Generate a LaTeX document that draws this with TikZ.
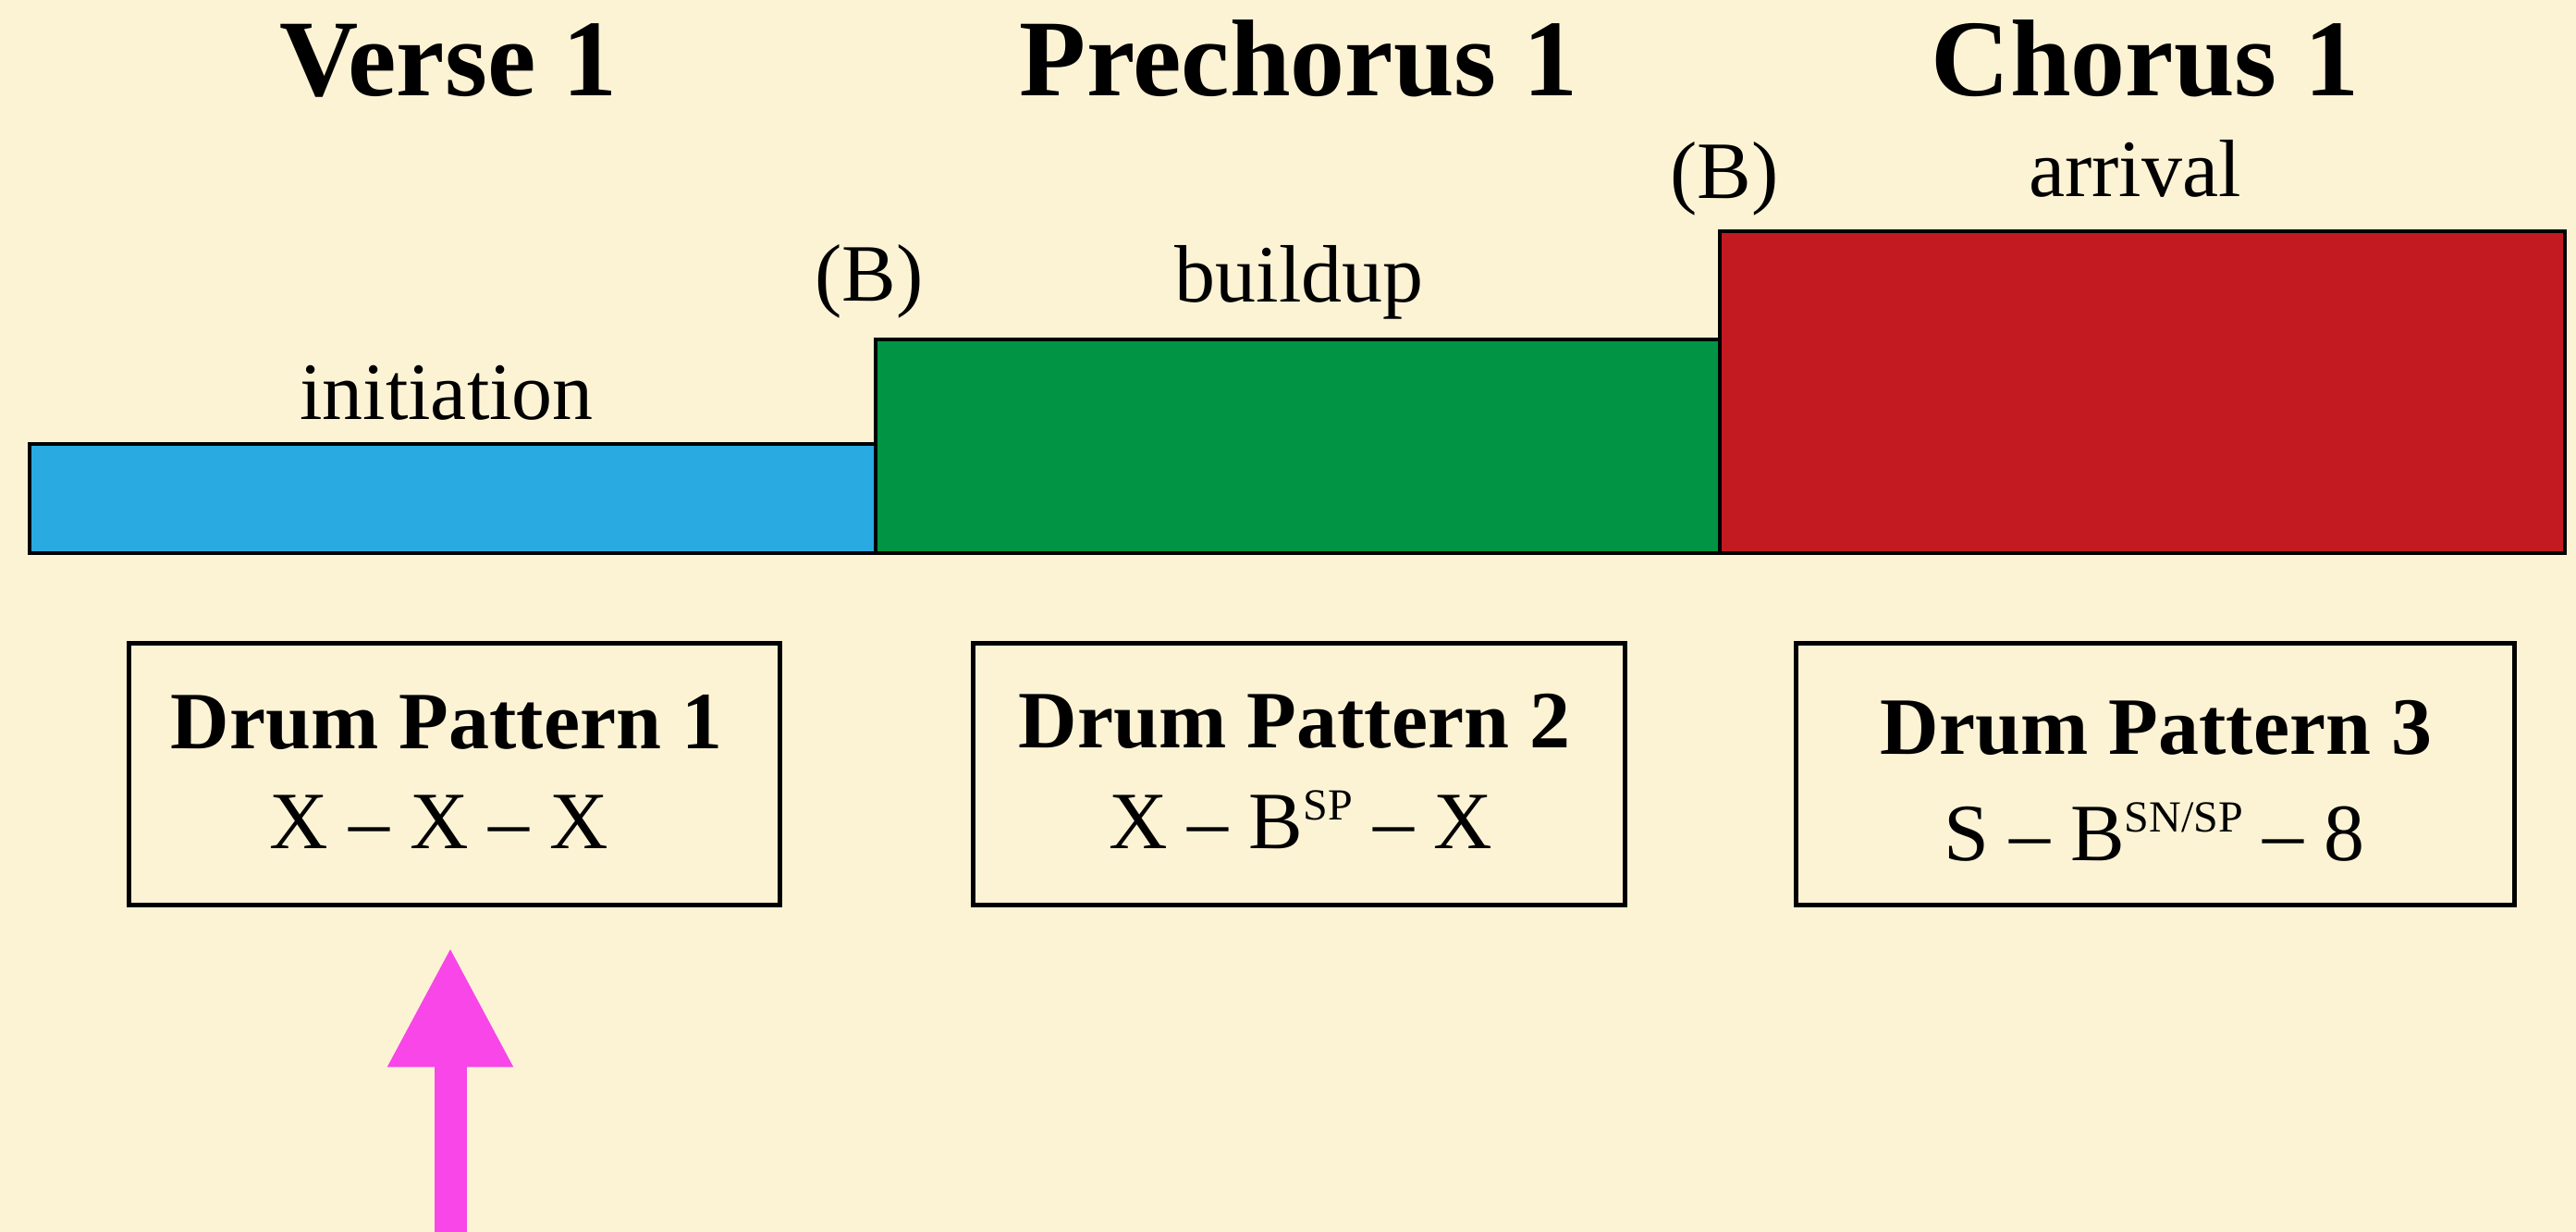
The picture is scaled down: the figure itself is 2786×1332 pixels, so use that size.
\documentclass[tikz,border=0pt]{standalone}
\usepackage{fontspec}
\setmainfont{Liberation Serif}
\usetikzlibrary{arrows.meta}
\definecolor{bgcream}{HTML}{FCF3D5}
\definecolor{barblue}{HTML}{29ABE2}
\definecolor{bargreen}{HTML}{009444}
\definecolor{barred}{HTML}{C31A22}
\definecolor{arrowpink}{HTML}{F846E8}
\newcommand{\supr}[1]{\raisebox{15.5pt}{\fontsize{24}{24}\selectfont #1}}
\begin{document}
\begin{tikzpicture}[x=0.5pt,y=-0.5pt,
  sectitle/.style={font=\fontsize{59}{62}\selectfont\bfseries, inner sep=0pt, anchor=base},
  lbl/.style={font=\fontsize{44}{48}\selectfont, inner sep=0pt, anchor=base},
  bar/.style={draw=black, line width=2pt},
  pbox/.style={draw=black, line width=2.5pt, rectangle, minimum height=141.5pt, inner sep=0pt},
  phead/.style={font=\fontsize{44}{48}\selectfont\bfseries, inner sep=0pt, anchor=base},
  pline/.style={font=\fontsize{44}{48}\selectfont, inner sep=0pt, anchor=base},
  bigarrow/.style={draw=arrowpink, line width=17.5pt, -{Triangle[width=63pt,length=65pt]}}
]
\useasboundingbox (0,0) rectangle (2786,1332);
\fill[bgcream] (0,0) rectangle (2786,1332);

% section titles
\node[sectitle] (t1) at (485,104) {Verse 1};
\node[sectitle] (t2) at (1405,104) {Prechorus 1};
\node[sectitle] (t3) at (2320,104) {Chorus 1};

% bars
\draw[bar, fill=barblue] (32,480) rectangle (947,598);
\draw[bar, fill=bargreen] (947,367) rectangle (1860,598);
\draw[bar, fill=barred] (1860,250) rectangle (2774,598);

% bar labels
\node[lbl] (l1) at (483,453) {initiation};
\node[lbl] (b1) at (940,326) {(B)};
\node[lbl] (l2) at (1405,327) {buildup};
\node[lbl] (b2) at (1865,215) {(B)};
\node[lbl] (l3) at (2309,213) {arrival};

% drum pattern boxes
\node[pbox, minimum width=352pt] (box1) at (491,836.5) {};
\node[pbox, minimum width=352.5pt] (box2) at (1404.5,836.5) {};
\node[pbox, minimum width=388.5pt] (box3) at (2330.5,836.5) {};

\node[phead] (h1) at (483,809) {Drum Pattern 1};
\node[pline] (p1) at (475,917) {X – X – X};
\node[phead] (h2) at (1400,808) {Drum Pattern 2};
\node[pline] (p2) at (1407,917) {X – B\supr{SP} – X};
\node[phead] (h3) at (2332,815) {Drum Pattern 3};
\node[pline] (p3) at (2330,930) {S – B\supr{SN/SP} – 8};

% arrow
\coordinate (astart) at (487,1332);
\draw[bigarrow, shorten >=21.5pt] (astart) -- (astart |- box1.south);
\end{tikzpicture}
\end{document}
